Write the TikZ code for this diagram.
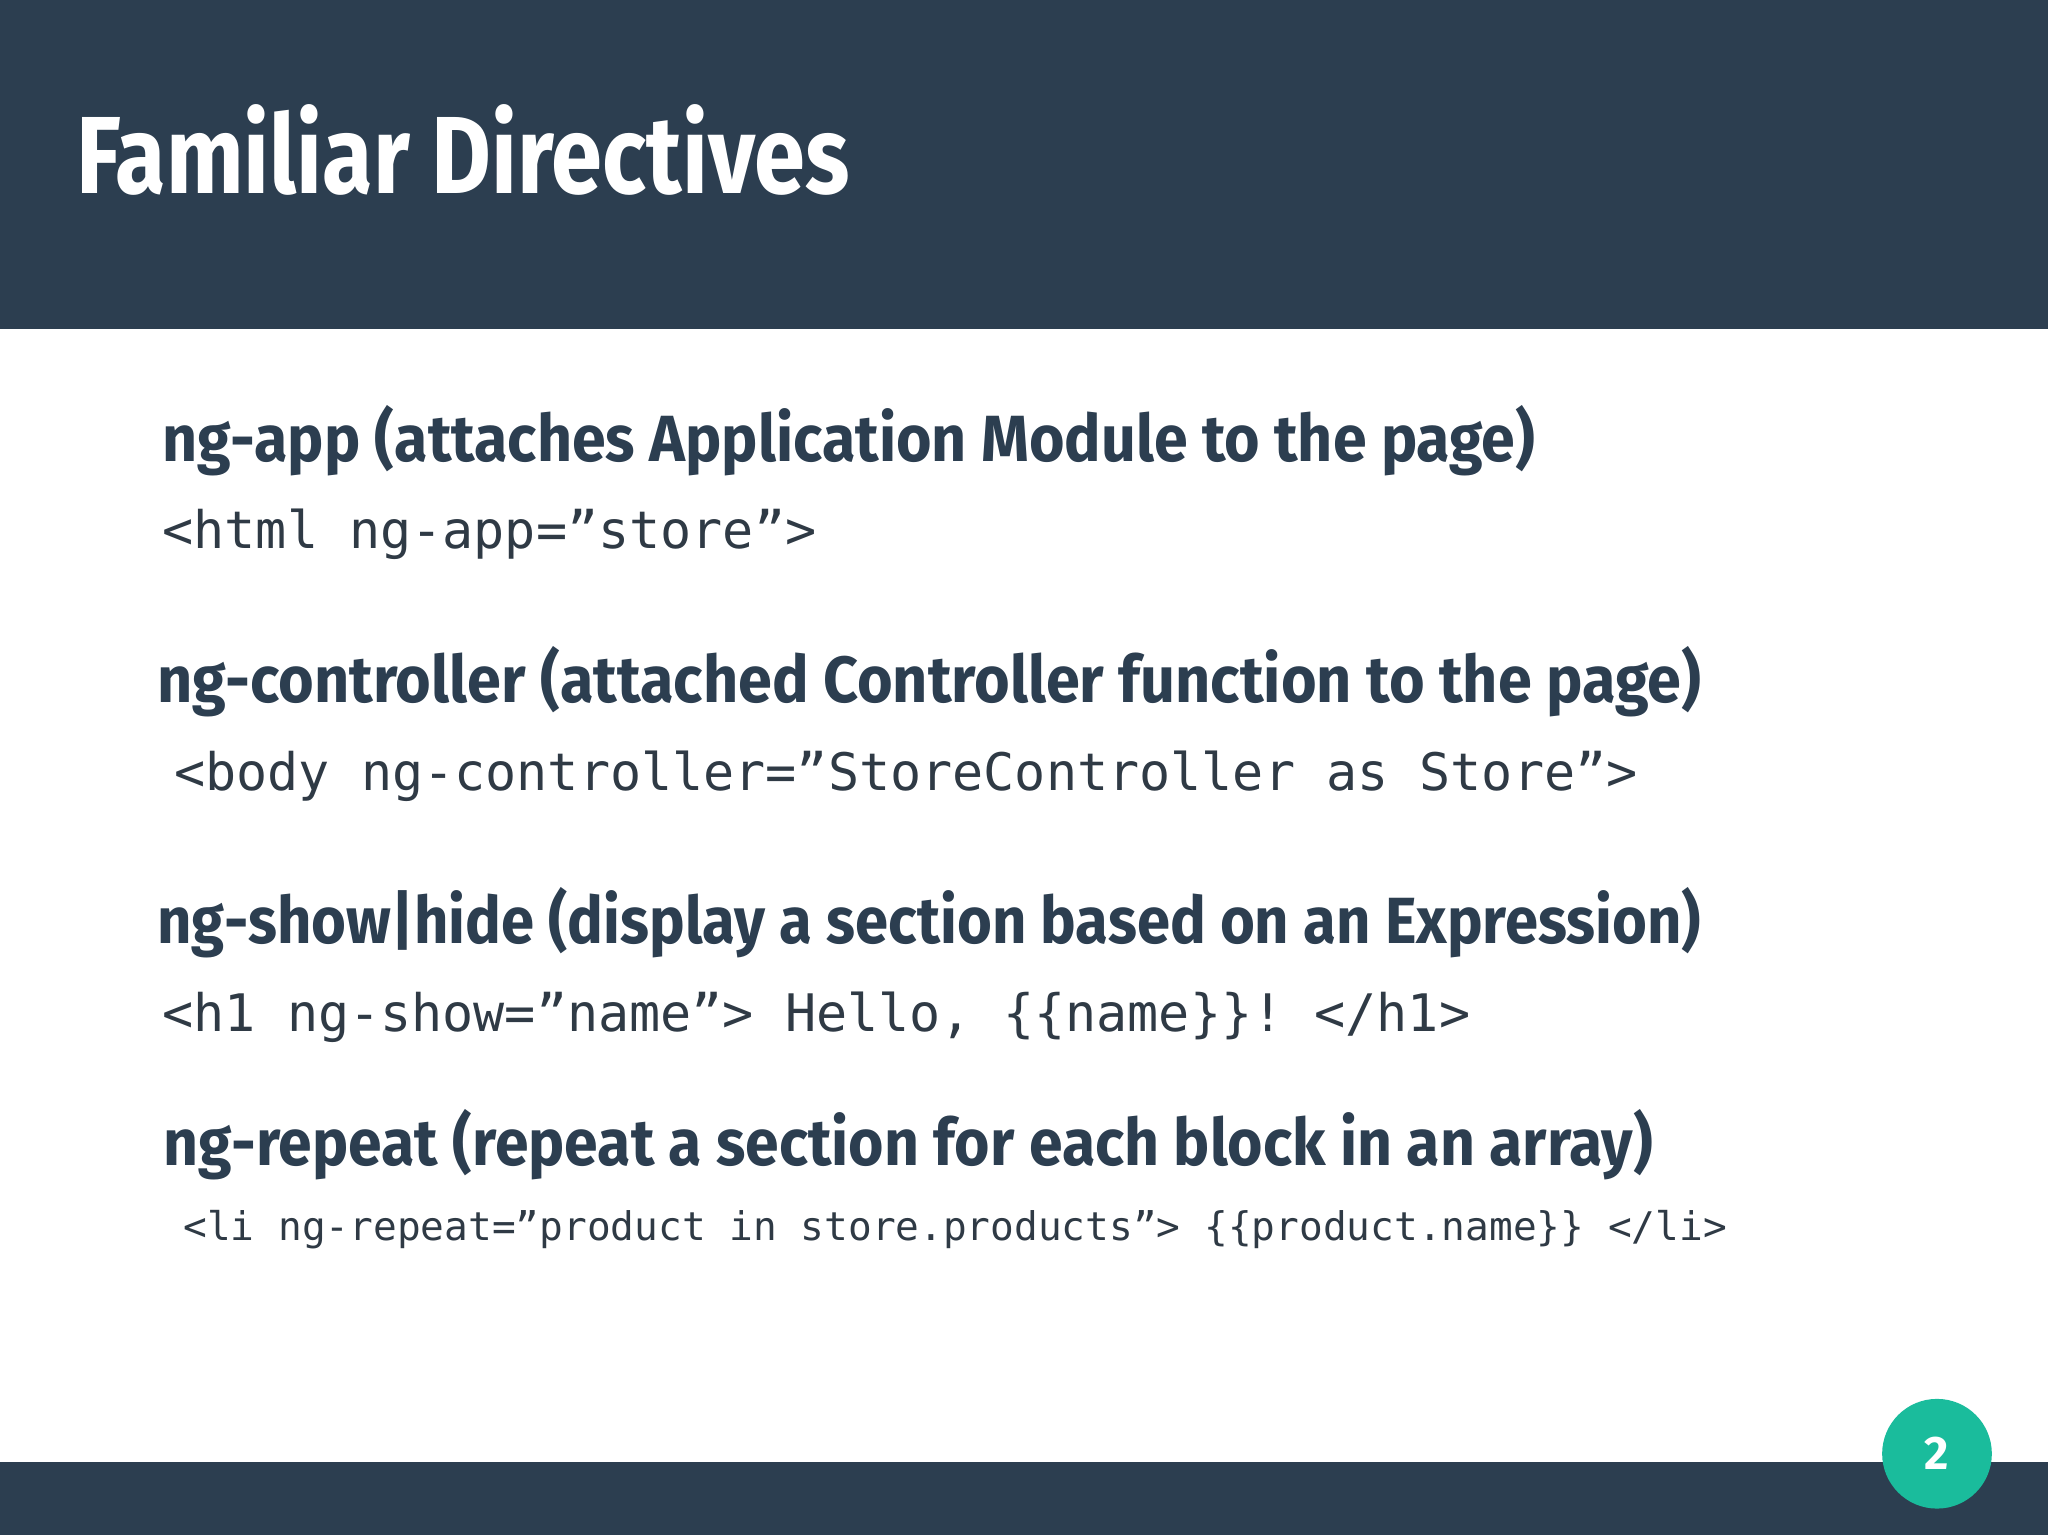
\documentclass[tikz,border=0pt]{standalone}
\usepackage{fontspec}
\usepackage{graphicx}
\setsansfont{Fira Sans}
\setmonofont{DejaVu Sans Mono}
\definecolor{navy}{HTML}{2C3E50}
\definecolor{teal}{HTML}{1ABC9C}
\definecolor{codegray}{HTML}{2F3A45}
\begin{document}
\begin{tikzpicture}[x=0.5pt,y=-0.5pt,
  head/.style={anchor=base west,inner sep=0,text=navy,font=\sffamily\bfseries\fontsize{25pt}{25pt}\selectfont},
  code/.style={anchor=base west,inner sep=0,text=codegray,font=\ttfamily\fontsize{19.8pt}{20pt}\selectfont}]
\useasboundingbox (0,0) rectangle (1568,1175);
\fill[navy] (0,0) rectangle (1568,252);
\fill[navy] (0,1119) rectangle (1568,1175);
\node[anchor=base west,inner sep=0,text=white,font=\sffamily\bfseries\fontsize{42pt}{42pt}\selectfont] (title) at (58,148) {\resizebox{296pt}{\height}{Familiar Directives}};
\node[head] (h1) at (124,353) {\resizebox{525.5pt}{\height}{ng-app (attaches Application Module to the page)}};
\node[code] (c1) at (124,420) {<html ng-app=”store”>};
\node[head] (h2) at (120,538) {\resizebox{591pt}{\height}{ng-controller (attached Controller function to the page)}};
\node[code] (c2) at (133,605) {<body ng-controller=”StoreController as Store”>};
\node[head] (h3) at (120,722) {\resizebox{591pt}{\height}{ng-show|hide (display a section based on an Expression)}};
\node[code] (c3) at (124,790) {<h1 ng-show=”name”> Hello, \{\{name\}\}! </h1>};
\node[head] (h4) at (125,892) {\resizebox{570pt}{\height}{ng-repeat (repeat a section for each block in an array)}};
\node[code,font=\ttfamily\fontsize{15.1pt}{16pt}\selectfont] (c4) at (140,950) {<li ng-repeat=”product in store.products”> \{\{product.name\}\} </li>};
\node[circle,fill=teal,minimum size=42pt,inner sep=0,text=white,font=\sffamily\bfseries\fontsize{18pt}{18pt}\selectfont] (pg) at (1483,1113) {2};
\end{tikzpicture}
\end{document}
